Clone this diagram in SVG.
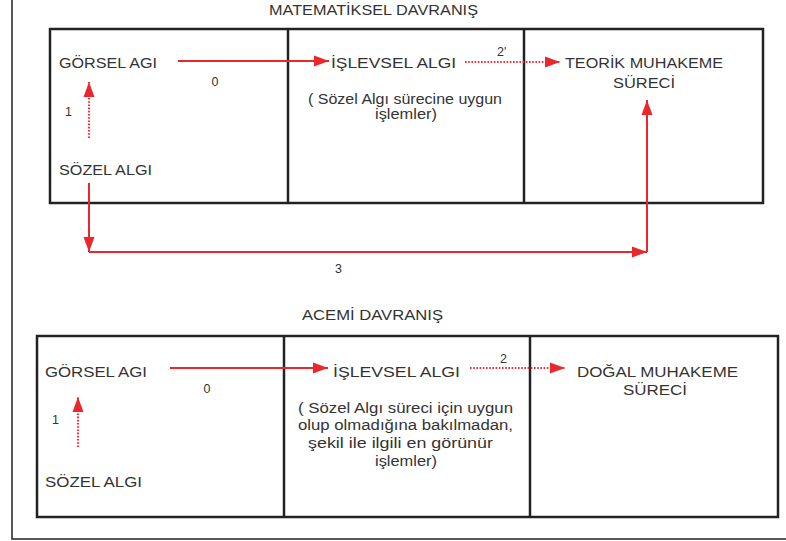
<svg xmlns="http://www.w3.org/2000/svg" width="786" height="541" viewBox="0 0 786 541">
<style>
  text { font-family: "Liberation Sans", Arial, sans-serif; font-size: 14px; fill: #333333; }
  .num { font-size: 12.5px; }
  .box { fill: none; stroke: #222; stroke-width: 2.5; }
  .frame { fill: none; stroke: #222; stroke-width: 1.5; }
  .solid { fill: none; stroke: #e8282c; stroke-width: 2; }
  .dot { fill: none; stroke: #e8323a; stroke-width: 2.2; stroke-dasharray: 1.6 1.6; }
</style>
<defs>
  <marker id="ah" markerUnits="userSpaceOnUse" markerWidth="16" markerHeight="14" viewBox="0 0 16 14" refX="15" refY="7" orient="auto">
    <path d="M0,1.5 L15,7 L0,12.5 z" fill="#e8282c"/>
  </marker>
</defs>
<rect width="786" height="541" fill="#ffffff"/>
<g id="frame">
  <path class="frame" d="M12,0 V539 H786"/>
</g>

<g id="top-title"><text x="269" y="15" textLength="209" lengthAdjust="spacingAndGlyphs">MATEMATİKSEL DAVRANIŞ</text></g>
<g id="top-box">
  <rect class="box" x="50" y="29" width="713" height="174"/>
  <line class="box" x1="288" y1="29" x2="288" y2="203"/>
  <line class="box" x1="524" y1="29" x2="524" y2="203"/>
</g>
<g id="top-gorsel"><text x="59" y="68" textLength="98" lengthAdjust="spacingAndGlyphs">GÖRSEL AGI</text></g>
<g id="top-sozel"><text x="59" y="175" textLength="93" lengthAdjust="spacingAndGlyphs">SÖZEL ALGI</text></g>
<g id="top-islevsel">
  <text x="331" y="68" textLength="125" lengthAdjust="spacingAndGlyphs">İŞLEVSEL ALGI</text>
  <text x="308" y="104" textLength="194" lengthAdjust="spacingAndGlyphs">( Sözel Algı sürecine uygun</text>
  <text x="375" y="119" textLength="62" lengthAdjust="spacingAndGlyphs">işlemler)</text>
</g>
<g id="top-teorik">
  <text x="565" y="68" textLength="158" lengthAdjust="spacingAndGlyphs">TEORİK MUHAKEME</text>
  <text x="613" y="88" textLength="62" lengthAdjust="spacingAndGlyphs">SÜRECİ</text>
</g>

<g id="bottom-title"><text x="302" y="320" textLength="141" lengthAdjust="spacingAndGlyphs">ACEMİ DAVRANIŞ</text></g>
<g id="bottom-box">
  <rect class="box" x="37" y="336" width="741" height="181"/>
  <line class="box" x1="284" y1="336" x2="284" y2="517"/>
  <line class="box" x1="530" y1="336" x2="530" y2="517"/>
</g>
<g id="bottom-gorsel"><text x="45" y="377" textLength="102" lengthAdjust="spacingAndGlyphs">GÖRSEL AGI</text></g>
<g id="bottom-sozel"><text x="45" y="487" textLength="97" lengthAdjust="spacingAndGlyphs">SÖZEL ALGI</text></g>
<g id="bottom-islevsel">
  <text x="333" y="377" textLength="127" lengthAdjust="spacingAndGlyphs">İŞLEVSEL ALGI</text>
  <text x="298" y="413" textLength="215" lengthAdjust="spacingAndGlyphs">( Sözel Algı süreci için uygun</text>
  <text x="298" y="430" textLength="215" lengthAdjust="spacingAndGlyphs">olup olmadığına bakılmadan,</text>
  <text x="308" y="448" textLength="185" lengthAdjust="spacingAndGlyphs">şekil ile ilgili en görünür</text>
  <text x="375" y="466" textLength="62" lengthAdjust="spacingAndGlyphs">işlemler)</text>
</g>
<g id="bottom-dogal">
  <text x="577" y="377" textLength="161" lengthAdjust="spacingAndGlyphs">DOĞAL MUHAKEME</text>
  <text x="623" y="395" textLength="64" lengthAdjust="spacingAndGlyphs">SÜRECİ</text>
</g>

<g id="connectors">
  <line class="solid" x1="178" y1="61" x2="329" y2="61" marker-end="url(#ah)"/>
  <line class="dot" x1="89" y1="138" x2="89" y2="82" marker-end="url(#ah)"/>
  <line class="dot" x1="465" y1="62" x2="560" y2="62" marker-end="url(#ah)"/>
  <line class="solid" x1="89" y1="183" x2="89" y2="252" marker-end="url(#ah)"/>
  <line class="solid" x1="89" y1="252" x2="647" y2="252" marker-end="url(#ah)"/>
  <line class="solid" x1="647" y1="252" x2="647" y2="100" marker-end="url(#ah)"/>

  <line class="solid" x1="170" y1="368" x2="328" y2="368" marker-end="url(#ah)"/>
  <line class="dot" x1="78" y1="447" x2="78" y2="397" marker-end="url(#ah)"/>
  <line class="dot" x1="470" y1="368" x2="565" y2="368" marker-end="url(#ah)"/>

  <text class="num" x="215" y="86" text-anchor="middle">0</text>
  <text class="num" x="65" y="116">1</text>
  <text class="num" x="497" y="56">2'</text>
  <text class="num" x="335" y="273">3</text>
  <text class="num" x="207" y="393" text-anchor="middle">0</text>
  <text class="num" x="52" y="424">1</text>
  <text class="num" x="500" y="363">2</text>
</g>
</svg>
